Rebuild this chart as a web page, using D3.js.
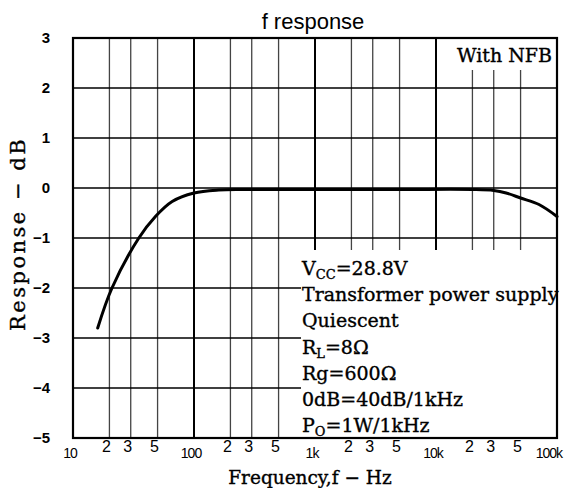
<!DOCTYPE html>
<html>
<head>
<meta charset="utf-8">
<script src="https://cdn.jsdelivr.net/npm/d3@7"></script>
<style>
  body { margin: 0; background: #fff; }
  .serif { font-family: "DejaVu Serif", "Liberation Serif", serif; fill: #000; stroke: #000; stroke-width: 0.35px; }
  .sans { font-family: "Liberation Sans", Arial, sans-serif; fill: #000; }
</style>
</head>
<body>
<svg id="chart"></svg>
<script>
// frequency response
var freqs = [16, 21, 35, 48, 66, 100, 160, 250, 500, 1000, 5000, 20000, 30000, 38000, 50000, 71000, 100000];
var response = [-2.8, -2.0, -1.0, -0.57, -0.27, -0.1, -0.04, -0.03, -0.03, -0.03, -0.03, -0.03, -0.05, -0.1, -0.2, -0.33, -0.57];

var xTickValues = [10, 20, 30, 50, 100, 200, 300, 500, 1000, 2000, 3000, 5000, 10000, 20000, 30000, 50000, 100000];
var xTickLabels = ["10", "2", "3", "5", "100", "2", "3", "5", "1k", "2", "3", "5", "10k", "2", "3", "5", "100k"];
var yTickValues = [3, 2, 1, 0, -1, -2, -3, -4, -5];
var yTickLabels = ["3", "2", "1", "0", "\u22121", "\u22122", "\u22123", "\u22124", "\u22125"];

var notes = [
  [["V", ""], ["CC", "sub"], ["=28.8V", ""]],
  [["Transformer power supply", ""]],
  [["Quiescent", ""]],
  [["R", ""], ["L", "sub"], ["=8\u03a9", ""]],
  [["Rg=600\u03a9", ""]],
  [["0dB=40dB/1kHz", ""]],
  [["P", ""], ["O", "sub"], ["=1W/1kHz", ""]]
];

var width = 564, height = 488;
var mLeft = 73, mRight = 557, mTop = 38, mBottom = 438;

var svg = d3.select("#chart").attr("width", width).attr("height", height);

var x = d3.scaleLog().domain([10, 100000]).range([mLeft, mRight]);
var y = d3.scaleLinear().domain([-5, 3]).range([mBottom, mTop]);

function isDecade(v) {
  var l = Math.log10(v);
  return Math.abs(l - Math.round(l)) < 1e-9;
}

// grid
var grid = svg.append("g");
grid.selectAll("line.v")
  .data(xTickValues.filter(function(v) { return v > 10 && v < 100000; }))
.enter().append("line")
  .attr("x1", function(d) { return x(d); })
  .attr("x2", function(d) { return x(d); })
  .attr("y1", mTop)
  .attr("y2", mBottom)
  .attr("stroke", function(d) { return isDecade(d) ? "#000" : "#444"; })
  .attr("stroke-width", function(d) { return isDecade(d) ? 2 : 1.3; });

grid.selectAll("line.h")
  .data(yTickValues.filter(function(v) { return v > -5 && v < 3; }))
.enter().append("line")
  .attr("x1", mLeft)
  .attr("x2", mRight)
  .attr("y1", function(d) { return y(d); })
  .attr("y2", function(d) { return y(d); })
  .attr("stroke", "#000")
  .attr("stroke-width", 1.6);

// white patches behind the two text blocks
svg.append("rect").attr("x", 440).attr("y", mTop).attr("width", mRight - 440).attr("height", 32).attr("fill", "#fff");
svg.append("rect").attr("x", 301).attr("y", 250).attr("width", mRight - 301).attr("height", mBottom - 250).attr("fill", "#fff");

// frame
svg.append("rect")
  .attr("x", mLeft).attr("y", mTop)
  .attr("width", mRight - mLeft).attr("height", mBottom - mTop)
  .attr("fill", "none").attr("stroke", "#000").attr("stroke-width", 2.2);

// curve
var line = d3.line()
  .x(function(d) { return x(d[0]); })
  .y(function(d) { return y(d[1]); })
  .curve(d3.curveCatmullRom.alpha(0.5));

svg.append("path")
  .datum(d3.zip(freqs, response))
  .attr("d", line)
  .attr("fill", "none")
  .attr("stroke", "#000")
  .attr("stroke-width", 3)
  .attr("stroke-linecap", "round");

// y labels
svg.append("g").selectAll("text")
  .data(yTickValues)
.enter().append("text")
  .attr("class", "sans")
  .attr("x", 50)
  .attr("y", function(d) { return y(d) + 5; })
  .attr("text-anchor", "end")
  .attr("font-size", 15)
  .attr("font-weight", "bold")
  .text(function(d, i) { return yTickLabels[i]; });

// x labels
var xl = svg.append("g").selectAll("text")
  .data(xTickValues)
.enter().append("text")
  .attr("class", "sans")
  .attr("x", function(d) { return x(d) - 3; })
  .attr("y", function(d) { return isDecade(d) ? 458 : 452; })
  .attr("text-anchor", "middle")
  .attr("font-size", function(d) { return isDecade(d) ? 14 : 16; })
  .attr("letter-spacing", function(d) { return isDecade(d) ? -1 : 0; })
  .text(function(d, i) { return xTickLabels[i]; });

// keep the last label inside the page
xl.each(function() {
  var w = this.getComputedTextLength();
  var cx = +this.getAttribute("x");
  if (cx + w / 2 > width - 2) this.setAttribute("x", width - 2 - w / 2);
});

// titles
svg.append("text").attr("class", "sans")
  .attr("x", 313).attr("y", 29)
  .attr("text-anchor", "middle").attr("font-size", 22)
  .text("f response");

svg.append("text").attr("class", "serif")
  .attr("x", 310).attr("y", 484)
  .attr("text-anchor", "middle").attr("font-size", 18.5)
  .text("Frequency,f \u2212 Hz");

svg.append("text").attr("class", "serif")
  .attr("transform", "translate(25,234) rotate(-90)")
  .attr("text-anchor", "middle").attr("font-size", 21)
  .attr("letter-spacing", 2.5)
  .text("Response \u2212 dB");

svg.append("text").attr("class", "serif")
  .attr("x", 552).attr("y", 62)
  .attr("text-anchor", "end").attr("font-size", 19)
  .text("With NFB");

// condition notes
var noteText = svg.append("g");
notes.forEach(function(parts, i) {
  var t = noteText.append("text").attr("class", "serif")
    .attr("x", 302).attr("y", 275 + i * 26.2)
    .attr("font-size", 19);
  parts.forEach(function(p) {
    var s = t.append("tspan").text(p[0]);
    if (p[1] === "sub") s.attr("font-size", 13).attr("baseline-shift", "-4");
  });
});
</script>
</body>
</html>
